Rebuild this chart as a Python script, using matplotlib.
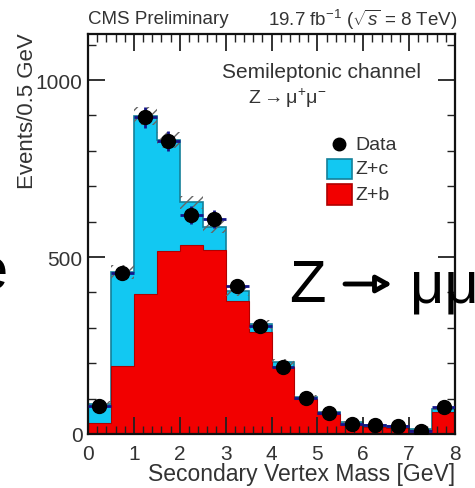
#!/usr/bin/env python3
"""Secondary vertex mass, Z+c / Z+b stack with data (CMS style)."""
import matplotlib
matplotlib.use("Agg")
import matplotlib.pyplot as plt
import numpy as np
from matplotlib.patches import Rectangle
from matplotlib.ticker import MultipleLocator

plt.rcParams["font.family"] = ["Liberation Sans", "DejaVu Sans"]
plt.rcParams["mathtext.fontset"] = "custom"
plt.rcParams["mathtext.rm"] = "Liberation Sans"
plt.rcParams["mathtext.it"] = "Liberation Sans:italic"

# --- data --------------------------------------------------------------------
edges = [0.0, 0.5, 1.0, 1.5, 2.0, 2.5, 3.0, 3.5, 4.0, 4.5,
         5.0, 5.5, 6.0, 6.5, 7.0, 7.5, 8.0]
zb = [32, 192, 395, 517, 534, 520, 376, 288, 190, 99, 57, 25, 20, 18, 10, 62]
zc = [53, 266, 503, 313, 121, 65, 28, 22, 13, 6, 5, 8, 5, 5, 4, 10]
mc_unc = [8, 20, 25, 22, 18, 16, 14, 12, 8, 5, 4, 3, 3, 3, 2, 5]
data = [78, 455, 895, 828, 618, 607, 418, 305, 188, 101, 60, 28, 25, 23, 8, 75]
data_err = [9, 21, 30, 29, 25, 25, 20, 17, 14, 10, 8, 5, 5, 5, 3, 9]

CYAN = "#12c8f2"
RED = "#f20000"

W, H = 475, 489


def fpx(x, y):
    """pixel (from top-left) -> figure fraction"""
    return x / W, 1 - y / H


fig = plt.figure(figsize=(W / 100, H / 100), dpi=100)
ax = fig.add_axes([88 / W, 54 / H, 367 / W, 400 / H])

total = np.array(zb) + np.array(zc)
centers = 0.5 * (np.array(edges[:-1]) + np.array(edges[1:]))

ax.stairs(total, edges, fill=True, facecolor=CYAN, edgecolor="#14809a", lw=1.2)
ax.stairs(zb, edges, fill=True, facecolor=RED, edgecolor="#b00000", lw=0.8)
ax.stairs(total + np.array(mc_unc), edges, baseline=total - np.array(mc_unc),
          fill=True, facecolor="none", edgecolor="#666666", hatch="///", lw=0)

ax.errorbar(centers, data, yerr=data_err, xerr=0.25, fmt="o", color="black",
            ecolor="#15158a", elinewidth=2, markersize=10, capsize=0, zorder=5)

ax.set_xlim(0, 8)
ax.set_ylim(0, 1130)
ax.xaxis.set_major_locator(MultipleLocator(1))
ax.xaxis.set_minor_locator(MultipleLocator(0.2))
ax.yaxis.set_major_locator(MultipleLocator(500))
ax.yaxis.set_minor_locator(MultipleLocator(100))
ax.tick_params(which="both", direction="in", top=True, right=True,
               labelsize=15, colors="#222222", labelcolor="#333333")
ax.tick_params(which="major", length=12, width=1.3)
ax.tick_params(which="minor", length=6, width=1.0)
ax.tick_params(axis="x", pad=7)
ax.tick_params(axis="y", pad=4)
for s in ax.spines.values():
    s.set_linewidth(1.6)
    s.set_color("#111111")

ax.set_xlabel("Secondary Vertex Mass [GeV]", fontsize=16.5, color="#333333", loc="right")
ax.xaxis.set_label_coords(1.0, -0.1)
ax.xaxis.label.set_va("center")
ax.set_ylabel("Events/0.5 GeV", fontsize=16, color="#333333", loc="top")
ax.yaxis.set_label_coords(-0.165, 1.005)
ax.yaxis.label.set_va("center")

# headers
fig.text(*fpx(88, 20), "CMS Preliminary", fontsize=13.5, color="#333333", va="center")
fig.text(*fpx(457, 20), r"19.7 fb$^{-1}$ ($\sqrt{s}$ = 8 TeV)", fontsize=13.5,
         color="#333333", va="center", ha="right")
fig.text(*fpx(322, 72), "Semileptonic channel", fontsize=15, color="#333333",
         ha="center", va="center")
fig.text(*fpx(248, 98), r"Z$\rightarrow$μ$^{+}$μ$^{-}$", fontsize=14,
         color="#333333", ha="left", va="center")

# legend drawn by hand
ax.plot([(339 - 88) / 367], [(435 - 145) / 400], "o", color="black",
        markersize=9, transform=ax.transAxes, clip_on=False)
ax.add_patch(Rectangle(((327 - 88) / 367, (435 - 180) / 400), 25 / 367, 20 / 400,
                       transform=ax.transAxes, facecolor=CYAN, edgecolor="#14809a", lw=1.2))
ax.add_patch(Rectangle(((327 - 88) / 367, (435 - 206) / 400), 25 / 367, 21 / 400,
                       transform=ax.transAxes, facecolor=RED, edgecolor="#b00000", lw=1.2))
for lab, yy in [("Data", 145), ("Z+c", 170), ("Z+b", 196)]:
    ax.text((355 - 88) / 367, (435 - yy) / 400, lab, fontsize=14, color="#333333",
            transform=ax.transAxes, va="center", ha="left")

# slide overlay text
fig.text(*fpx(289, 302), "Z", fontsize=43, color="black", va="baseline", ha="left")
fig.text(*fpx(410, 302), "μμ", fontsize=43, color="black", va="baseline", ha="left")
ax.annotate("", xy=(392, H - 285), xytext=(345, H - 285), xycoords="figure pixels",
            textcoords="figure pixels",
            arrowprops=dict(arrowstyle="-|>,head_length=0.9,head_width=0.5",
                            fc="white", ec="black", lw=3.5, shrinkA=0, shrinkB=0))
fig.text(*fpx(8, 290), "e", fontsize=43, color="black", va="baseline", ha="right")

fig.savefig("out.png", dpi=100)
